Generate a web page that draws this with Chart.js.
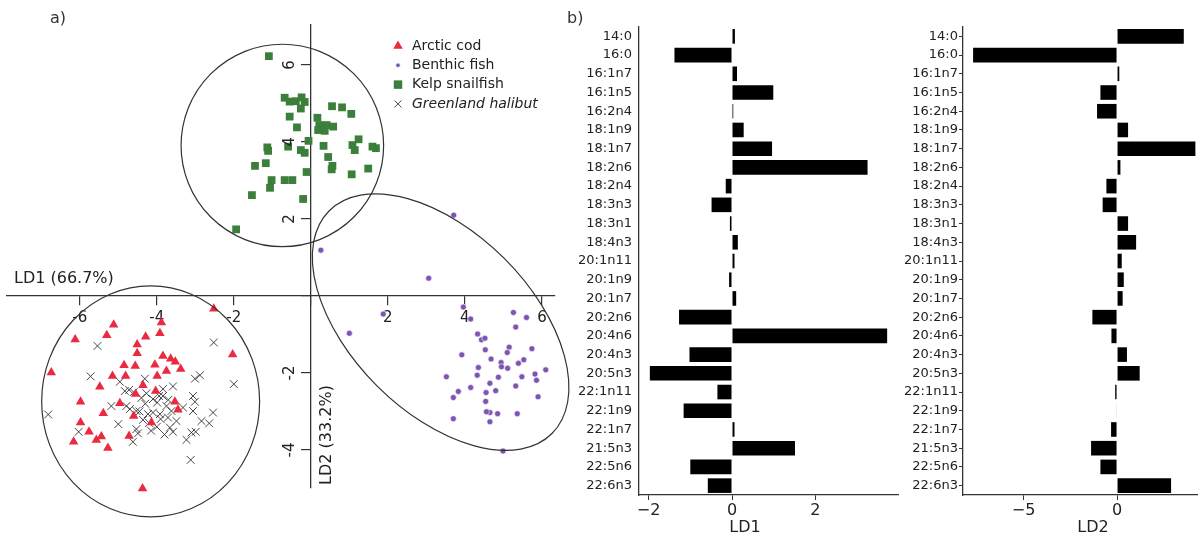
<!DOCTYPE html>
<html>
<head>
<meta charset="utf-8">
<script src="https://cdn.jsdelivr.net/npm/chart.js@4.4.1/dist/chart.umd.min.js"></script>
<style>
  body { margin: 0; background: #fff; width: 1198px; height: 539px; overflow: hidden; position: relative; }
  canvas { position: absolute; top: 0; }
  #cA { left: 0; }
  #cB { left: 560px; }
  #cC { left: 900px; }
  .panel { position: absolute; top: 8px; font: 16px 'DejaVu Sans'; color: #333; }
</style>
</head>
<body>
<canvas id="cA" width="580" height="539"></canvas>
<canvas id="cB" width="340" height="539"></canvas>
<canvas id="cC" width="298" height="539"></canvas>
<div class="panel" style="left:50px">a)</div>
<div class="panel" style="left:567px">b)</div>
<script>
// LD scores, panel a)
const arcticCod = [[-5.12,-0.75],[-5.30,-1.02],[-6.12,-1.13],[-4.29,-1.06],[-4.51,-1.26],[-4.51,-1.49],[-4.85,-1.80],[-4.56,-1.82],[-6.74,-1.99],[-5.15,-2.08],[-4.81,-2.08],[-5.48,-2.36],[-4.36,-2.32],[-4.55,-2.55],[-5.98,-2.75],[-4.96,-2.79],[-5.39,-3.05],[-4.60,-3.12],[-5.98,-3.29],[-5.76,-3.53],[-6.16,-3.79],[-5.57,-3.74],[-5.44,-3.65],[-5.27,-3.95],[-4.72,-3.64],[-4.37,-5.00],[-2.52,-0.33],[-3.88,-0.69],[-3.92,-0.97],[-2.03,-1.52],[-3.84,-1.56],[-3.64,-1.63],[-3.52,-1.71],[-3.38,-1.90],[-4.05,-1.79],[-3.75,-1.95],[-3.99,-2.08],[-4.03,-2.47],[-3.53,-2.75],[-3.45,-2.96],[-4.14,-3.29]];
const benthicFish = [[3.71,2.10],[0.26,1.19],[3.06,0.46],[1.88,-0.47],[1.00,-0.97],[3.96,-0.29],[4.15,-0.60],[5.26,-0.43],[5.60,-0.56],[5.32,-0.81],[4.33,-0.99],[4.43,-1.14],[4.52,-1.10],[4.53,-1.40],[3.92,-1.53],[5.15,-1.33],[5.10,-1.47],[5.74,-1.37],[4.68,-1.64],[4.94,-1.73],[4.95,-1.84],[5.11,-1.88],[5.39,-1.75],[5.53,-1.66],[4.35,-1.86],[4.32,-2.06],[3.52,-2.10],[4.87,-2.11],[5.48,-2.10],[5.82,-2.03],[5.86,-2.19],[6.10,-1.92],[4.65,-2.27],[5.32,-2.34],[3.83,-2.48],[3.70,-2.64],[4.15,-2.38],[4.55,-2.51],[4.80,-2.46],[5.90,-2.62],[4.54,-2.74],[4.65,-3.03],[4.85,-3.06],[5.36,-3.06],[3.70,-3.19],[4.65,-3.27],[4.99,-4.03],[4.56,-3.01]];
const kelpSnailfish = [[-1.09,6.23],[-0.68,5.15],[-0.55,5.05],[-0.39,5.06],[-0.24,5.16],[-0.16,5.04],[-0.26,4.87],[-0.55,4.66],[-0.36,4.38],[0.55,4.93],[0.81,4.90],[1.05,4.73],[0.17,4.63],[0.22,4.44],[0.19,4.31],[0.36,4.29],[0.58,4.40],[0.41,4.44],[-0.06,4.03],[-0.59,3.88],[-1.13,3.86],[-1.11,3.77],[-0.26,3.79],[-0.16,3.72],[0.33,3.90],[1.08,3.92],[1.24,4.07],[1.14,3.79],[1.60,3.88],[1.69,3.84],[0.45,3.61],[-1.45,3.38],[-1.17,3.45],[0.56,3.38],[0.54,3.29],[1.49,3.31],[1.06,3.16],[-0.11,3.22],[-1.02,3.01],[-1.06,2.81],[-0.68,3.01],[-0.48,3.01],[-1.53,2.62],[-0.20,2.52],[-1.94,1.73]];
const greenlandHalibut = [[-5.54,-1.30],[-5.72,-2.09],[-6.82,-3.08],[-5.00,-3.33],[-6.03,-3.53],[-4.31,-2.15],[-4.96,-2.23],[-4.83,-2.47],[-4.72,-2.44],[-4.27,-2.53],[-5.18,-2.86],[-4.79,-2.86],[-4.70,-2.94],[-4.53,-2.99],[-4.23,-3.07],[-4.36,-3.22],[-4.53,-3.46],[-4.49,-3.57],[-4.62,-3.79],[-2.52,-1.21],[-2.88,-2.06],[-3.01,-2.15],[-2.00,-2.29],[-3.58,-2.35],[-3.84,-2.42],[-3.94,-2.60],[-4.10,-2.68],[-3.99,-2.77],[-3.75,-2.86],[-3.62,-2.99],[-3.92,-3.07],[-3.71,-3.16],[-3.49,-3.25],[-3.06,-2.60],[-3.01,-2.75],[-3.32,-2.90],[-3.06,-2.99],[-2.54,-3.03],[-2.84,-3.25],[-2.64,-3.31],[-3.58,-3.53],[-3.10,-3.55],[-2.99,-3.53],[-3.23,-3.74],[-3.12,-4.26],[-3.66,-3.42],[-4.10,-3.03],[-3.84,-2.60],[-4.20,-3.30],[-4.00,-3.40],[-3.90,-3.20],[-4.30,-2.80],[-4.40,-2.65],[-4.60,-2.50],[-4.15,-3.50],[-3.80,-3.60],[-4.45,-3.00],[-3.70,-2.70]];

// group ellipses (data units, angle in degrees)
const ellipses = [
  { cx: -0.74, cy: 3.91, rx: 2.63, ry: 2.63, angle: 0 },
  { cx: -4.16, cy: -2.74, rx: 2.83, ry: 3.0, angle: 0 },
  { cx: 3.37, cy: -0.68, rx: 4.09, ry: 2.34, angle: -45 }
];

// discriminant coefficients, panel b)
const fattyAcids = ['14:0','16:0','16:1n7','16:1n5','16:2n4','18:1n9','18:1n7','18:2n6','18:2n4','18:3n3','18:3n1','18:4n3','20:1n11','20:1n9','20:1n7','20:2n6','20:4n6','20:4n3','20:5n3','22:1n11','22:1n9','22:1n7','21:5n3','22:5n6','22:6n3'];
const ld1Coef = [0.07,-1.38,0.12,0.99,0.03,0.28,0.96,3.25,-0.15,-0.49,-0.05,0.14,0.06,-0.07,0.10,-1.27,3.72,-1.02,-1.97,-0.35,-1.16,0.06,1.51,-1.00,-0.58];
const ld2Coef = [3.57,-7.70,0.12,-0.89,-1.07,0.59,4.19,0.18,-0.57,-0.77,0.59,1.02,0.25,0.36,0.30,-1.32,-0.30,0.53,1.21,-0.10,-0.03,-0.32,-1.39,-0.89,2.89];

const FONT = 'DejaVu Sans';
const INK = '#222';
const AXIS = '#333';
const pts = arr => arr.map(p => ({ x: p[0], y: p[1] }));
const minus = v => v < 0 ? '\u2212' + Math.abs(v) : String(v);

const ellipsePlugin = {
  id: 'ellipses',
  afterDatasetsDraw(chart) {
    const { ctx, scales: { x, y } } = chart;
    const kx = Math.abs(x.getPixelForValue(1) - x.getPixelForValue(0));
    const ky = Math.abs(y.getPixelForValue(1) - y.getPixelForValue(0));
    ctx.save();
    ctx.strokeStyle = AXIS;
    ctx.lineWidth = 1.2;
    ellipses.forEach(e => {
      ctx.beginPath();
      ctx.ellipse(x.getPixelForValue(e.cx), y.getPixelForValue(e.cy), e.rx * kx, e.ry * ky, -e.angle * Math.PI / 180, 0, 2 * Math.PI);
      ctx.stroke();
    });
    ctx.restore();
  }
};

const scatterText = {
  id: 'scatterText',
  afterDraw(chart) {
    const { ctx, scales: { x, y } } = chart;
    const x0 = x.getPixelForValue(0);
    ctx.save();
    ctx.fillStyle = INK;
    // rotated y tick labels
    ctx.font = '15px ' + FONT;
    ctx.textAlign = 'center';
    ctx.textBaseline = 'middle';
    y.ticks.forEach(t => {
      if (t.value === 0) return;
      ctx.save();
      ctx.translate(x0 - 21, y.getPixelForValue(t.value));
      ctx.rotate(-Math.PI / 2);
      ctx.fillText(String(t.value), 0, 0);
      ctx.restore();
    });
    // axis titles
    ctx.font = '16px ' + FONT;
    ctx.textAlign = 'left';
    ctx.fillText('LD1 (66.7%)', 14, 279);
    ctx.save();
    ctx.translate(x0 + 16, 435);
    ctx.rotate(-Math.PI / 2);
    ctx.textAlign = 'center';
    ctx.fillText('LD2 (33.2%)', 0, 0);
    ctx.restore();
    // legend
    chart.data.datasets.forEach((ds, i) => {
      const ly = 46 + i * 19.3;
      ctx.fillStyle = ds.backgroundColor;
      ctx.strokeStyle = ds.borderColor;
      ctx.lineWidth = ds.borderWidth || 0;
      Chart.helpers.drawPoint(ctx, { pointStyle: ds.pointStyle, radius: ds.legendRadius, borderWidth: ds.borderWidth || 0, rotation: 0 }, 398, ly);
      ctx.fillStyle = INK;
      ctx.textAlign = 'left';
      ctx.font = (ds.italic ? 'italic ' : '') + '14px ' + FONT;
      ctx.fillText(ds.label, 412, ly);
    });
    ctx.restore();
  }
};

const centerGrid = { display: true, drawOnChartArea: false, drawTicks: true, tickLength: 9, color: AXIS, lineWidth: 1.2 };

new Chart(document.getElementById('cA'), {
  type: 'scatter',
  data: {
    datasets: [
      { label: 'Arctic cod', data: pts(arcticCod), clip: false, pointStyle: 'triangle', pointRadius: 5.5, legendRadius: 5.5, backgroundColor: '#ea2a40', borderColor: '#ea2a40', borderWidth: 0 },
      { label: 'Benthic fish', data: pts(benthicFish), clip: false, pointStyle: 'circle', pointRadius: 3, legendRadius: 2.2, backgroundColor: '#7c55b3', borderColor: '#ffffff', borderWidth: 0.6 },
      { label: 'Kelp snailfish', data: pts(kelpSnailfish), clip: false, pointStyle: 'rect', pointRadius: 5.5, legendRadius: 6, backgroundColor: '#3b7f3b', borderColor: '#3b7f3b', borderWidth: 0 },
      { label: 'Greenland halibut', italic: true, data: pts(greenlandHalibut), clip: false, pointStyle: 'crossRot', pointRadius: 5.5, legendRadius: 5, backgroundColor: 'rgba(40,40,40,0.85)', borderColor: 'rgba(40,40,40,0.85)', borderWidth: 1 }
    ]
  },
  options: {
    responsive: false,
    animation: false,
    events: [],
    layout: { padding: { left: 7, right: 25, top: 25, bottom: 51 } },
    plugins: { legend: { display: false }, tooltip: { enabled: false } },
    scales: {
      x: {
        type: 'linear', min: -7.89, max: 6.34, position: { y: 0 },
        afterFit: s => { s.height = 0; },
        grid: centerGrid,
        border: { display: true, color: AXIS, width: 1.3 },
        ticks: { stepSize: 2, includeBounds: false, padding: 4, maxRotation: 0, autoSkip: false, color: INK, font: { family: FONT, size: 15 }, callback: v => v === 0 ? '' : String(v) }
      },
      y: {
        type: 'linear', min: -4.99, max: 7.04, position: { x: 0 },
        afterFit: s => { s.width = 0; },
        grid: centerGrid,
        border: { display: true, color: AXIS, width: 1.3 },
        ticks: { stepSize: 2, includeBounds: false, display: false }
      }
    }
  },
  plugins: [ellipsePlugin, scatterText]
});

function coefChart(id, values, min, max, step, axisW, padRight, tickLen, title, titleX) {
  const titlePlugin = {
    id: 'xTitle',
    afterDraw(chart) {
      const ctx = chart.ctx;
      ctx.save();
      ctx.fillStyle = INK;
      ctx.font = '16px ' + FONT;
      ctx.textAlign = 'center';
      ctx.textBaseline = 'middle';
      ctx.fillText(title, titleX, 528);
      ctx.restore();
    }
  };
  return new Chart(document.getElementById(id), {
    type: 'bar',
    data: {
      labels: fattyAcids,
      datasets: [{ data: values, backgroundColor: '#000', borderWidth: 0, barPercentage: 0.78, categoryPercentage: 1 }]
    },
    options: {
      indexAxis: 'y',
      responsive: false,
      animation: false,
      events: [],
      layout: { padding: { top: 27, right: padRight, left: 0, bottom: 0 } },
      plugins: { legend: { display: false }, tooltip: { enabled: false } },
      scales: {
        x: {
          min: min, max: max,
          afterFit: s => { s.height = 44; },
          grid: { drawOnChartArea: false, tickLength: 5, color: AXIS },
          border: { color: AXIS, width: 1.3 },
          ticks: { stepSize: step, includeBounds: false, padding: 1, maxRotation: 0, color: INK, font: { family: FONT, size: 16 }, callback: v => minus(v) }
        },
        y: {
          afterFit: s => { s.width = axisW; },
          grid: { drawOnChartArea: false, offset: false, tickLength: tickLen, drawTicks: tickLen > 0, color: AXIS },
          border: { color: AXIS, width: 1.3 },
          ticks: { autoSkip: false, padding: tickLen > 0 ? 1 : 7, color: INK, font: { family: FONT, size: 13 } }
        }
      }
    },
    plugins: [titlePlugin]
  });
}

coefChart('cB', ld1Coef, -2.23, 3.98, 2, 79, 2, 0, 'LD1', 185);
coefChart('cC', ld2Coef, -8.24, 4.33, 5, 63, 0, 4, 'LD2', 193);
</script>
</body>
</html>
